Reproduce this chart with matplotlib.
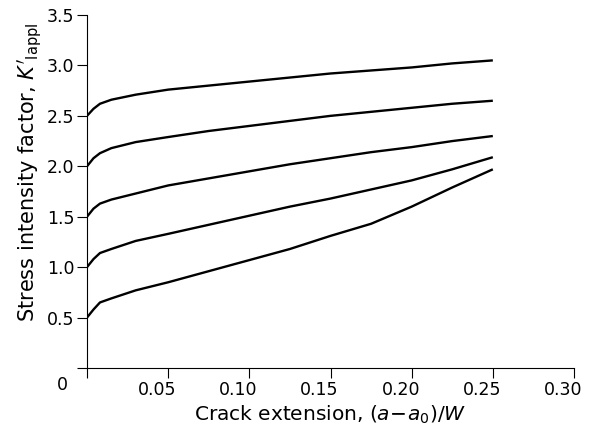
import matplotlib.pyplot as plt
import matplotlib.transforms as mtransforms
import numpy as np

# crack extension (a - a0)/W
crack_ext = [0, 0.004, 0.008, 0.015, 0.03, 0.05, 0.075, 0.10, 0.125, 0.15, 0.175, 0.20, 0.225, 0.25]

# stress intensity factor curves, one per starting value
k_050 = [0.50, 0.58, 0.65, 0.69, 0.77, 0.85, 0.96, 1.07, 1.18, 1.31, 1.43, 1.60, 1.79, 1.97]
k_100 = [1.00, 1.08, 1.14, 1.18, 1.26, 1.33, 1.42, 1.51, 1.60, 1.68, 1.77, 1.86, 1.97, 2.09]
k_150 = [1.50, 1.58, 1.63, 1.67, 1.73, 1.81, 1.88, 1.95, 2.02, 2.08, 2.14, 2.19, 2.25, 2.30]
k_200 = [2.00, 2.08, 2.13, 2.18, 2.24, 2.29, 2.35, 2.40, 2.45, 2.50, 2.54, 2.58, 2.62, 2.65]
k_250 = [2.50, 2.57, 2.62, 2.66, 2.71, 2.76, 2.80, 2.84, 2.88, 2.92, 2.95, 2.98, 3.02, 3.05]

x_ticks = [0, 0.05, 0.10, 0.15, 0.20, 0.25, 0.30]
x_labels = ['', '0.05', '0.10', '0.15', '0.20', '0.25', '0.30']
y_ticks = [0, 0.5, 1.0, 1.5, 2.0, 2.5, 3.0, 3.5]
y_labels = ['', '0.5', '1.0', '1.5', '2.0', '2.5', '3.0', '3.5']

plt.rcParams['mathtext.fontset'] = 'dejavusans'

fig = plt.figure(figsize=(5.89, 4.36), dpi=100)
ax = fig.add_axes([87 / 589, 1 - 368 / 436, (574 - 87) / 589, (368 - 15) / 436])

for k in [k_050, k_100, k_150, k_200, k_250]:
    ax.plot(crack_ext, k, color='black', linewidth=1.7, solid_capstyle='butt')

ax.set_xlim(0, 0.30)
ax.set_ylim(0, 3.5)
ax.set_xticks(x_ticks)
ax.set_xticklabels(x_labels)
ax.set_yticks(y_ticks)
ax.set_yticklabels(y_labels)

ax.spines['top'].set_visible(False)
ax.spines['right'].set_visible(False)
ax.spines['left'].set_linewidth(0.8)
ax.spines['bottom'].set_linewidth(0.8)
ax.tick_params(direction='out', length=7, width=0.8, labelsize=12.5, pad=2)

# x tick labels sit a little left of their ticks in the original
shift = mtransforms.ScaledTranslation(-11 / 100, 0, fig.dpi_scale_trans)
for lbl in ax.get_xticklabels():
    lbl.set_transform(lbl.get_transform() + shift)

# shared origin label
fig.text(62 / 589, 1 - 385 / 436, '0', fontsize=12.5, ha='center', va='center')

ax.set_xlabel(r"Crack extension, $(a\!-\!a_0)/W$", fontsize=14.5, labelpad=4)
fig.text(30 / 589, 1 - 172 / 436, r"Stress intensity factor, $K'_{\mathrm{Iappl}}$",
         rotation=90, fontsize=15, ha='center', va='center')

fig.savefig('out.png', dpi=100)
